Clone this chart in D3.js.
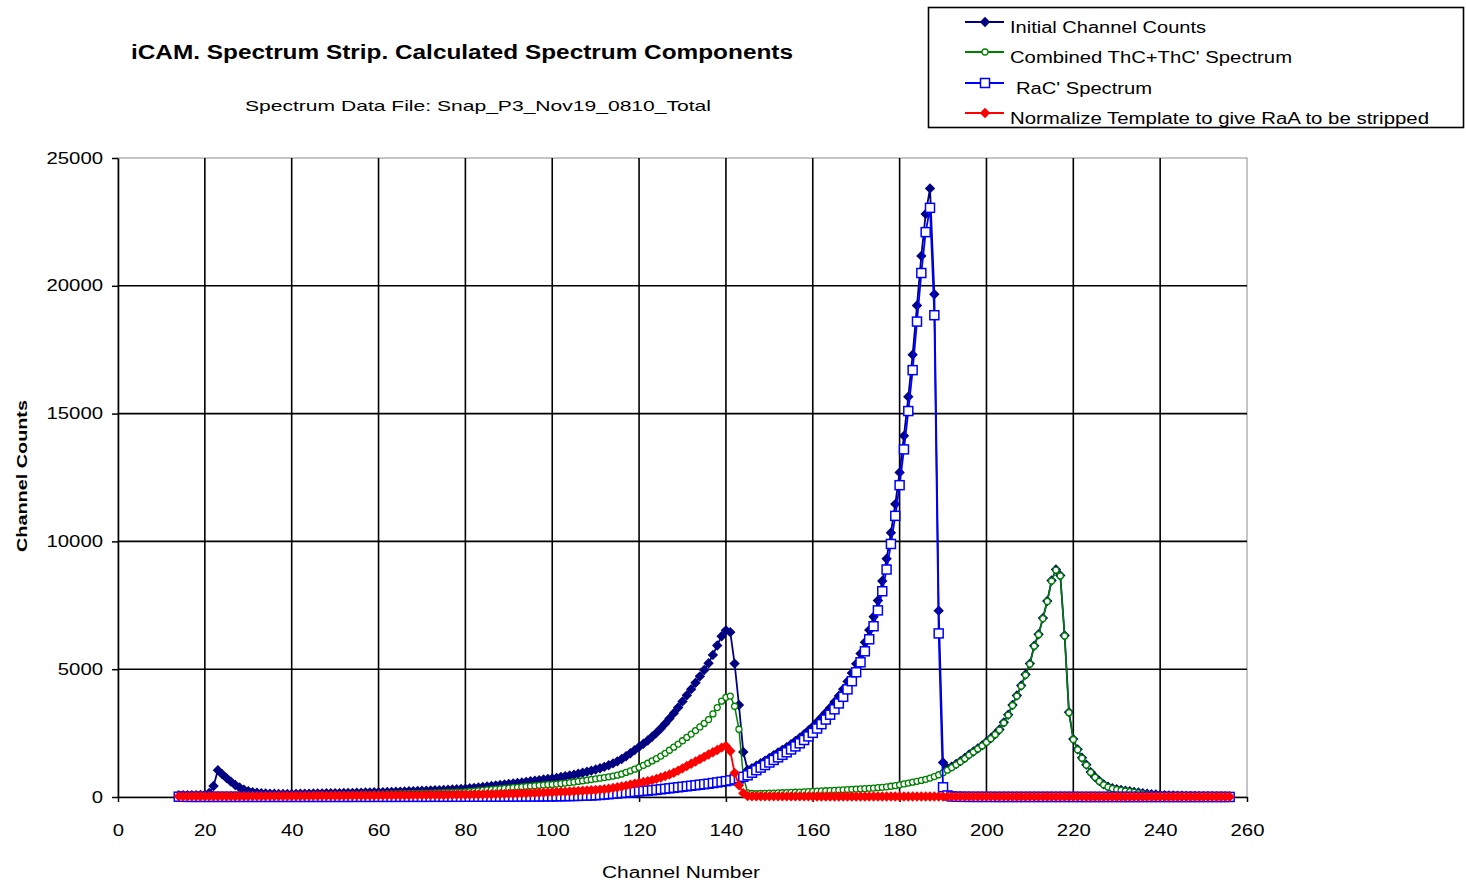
<!DOCTYPE html>
<html>
<head>
<meta charset="utf-8">
<title>iCAM Spectrum Strip</title>
<script src="https://cdn.jsdelivr.net/npm/d3@7"></script>
<style>
  body { margin: 0; background: #fff; }
  svg { display: block; }
</style>
</head>
<body>
<svg id="chart" width="1466" height="882"></svg>
<script>
// ---- Data: counts per channel, starting at channel 14 and ending at channel 256 ----
const firstChannel = 14;

const initialCounts = [
  75, 70, 70, 72, 75, 78,
  90, 160, 430, 1050, 890, 740, 600, 470, 370, 290,
  230, 190, 165, 150, 140, 132, 126, 122, 120, 120,
  122, 124, 126, 129, 132, 135, 138, 141, 144, 147,
  150, 153, 156, 159, 162, 166, 170, 174, 178, 183,
  188, 192, 197, 202, 207, 212, 218, 224, 230, 236,
  242, 248, 255, 262, 270, 278, 287, 296, 305, 314,
  322, 340, 358, 376, 394, 414, 433, 452, 471, 490,
  510, 530, 551, 572, 593, 615, 638, 661, 684, 708,
  725, 750, 780, 810, 840, 872, 910, 950, 990, 1030,
  1075, 1125, 1180, 1245, 1315, 1395, 1485, 1595, 1710, 1835,
  1960, 2085, 2210, 2355, 2510, 2680, 2870, 3070, 3280, 3500,
  3740, 3980, 4220, 4470, 4720, 4970, 5230, 5560, 5930, 6290,
  6520, 6450, 5220, 3600, 1760, 1060, 1130, 1220, 1320, 1425,
  1530, 1635, 1740, 1845, 1950, 2065, 2190, 2320, 2455, 2605,
  2755, 2930, 3110, 3300, 3495, 3715, 3950, 4220, 4520, 4850,
  5210, 5610, 6050, 6530, 7050, 7685, 8450, 9320, 10340, 11460,
  12700, 14130, 15660, 17300, 19230, 21170, 22810, 23810, 19670, 7290,
  1350, 1130, 1190, 1290, 1405, 1525, 1660, 1780, 1900, 2020,
  2160, 2300, 2460, 2640, 2920, 3220, 3600, 3970, 4360, 4790,
  5220, 5920, 6370, 7000, 7670, 8470, 8900, 8670, 6320, 3320,
  2265, 1865, 1535, 1265, 975, 785, 625, 495, 405, 345,
  305, 275, 250, 225, 200, 175, 150, 130, 110, 95,
  81, 70, 62, 56, 51, 47, 43, 40, 37, 34,
  32, 30, 27, 25, 23, 22, 21
];

const thcSpectrum = [
  30, 28, 30, 32, 34, 35,
  36, 38, 40, 45, 42, 40, 40, 42, 44, 46,
  48, 50, 52, 54, 56, 58, 60, 62, 64, 66,
  68, 70, 72, 74, 76, 78, 80, 82, 84, 86,
  88, 90, 92, 94, 96, 98, 100, 103, 106, 109,
  112, 115, 118, 121, 124, 127, 130, 134, 138, 142,
  146, 150, 155, 160, 165, 170, 176, 182, 188, 194,
  200, 215, 230, 245, 260, 275, 290, 305, 320, 335,
  350, 365, 380, 395, 410, 425, 440, 455, 470, 485,
  490, 505, 525, 545, 565, 585, 610, 635, 660, 685,
  710, 735, 760, 790, 820, 855, 900, 960, 1020, 1090,
  1160, 1240, 1320, 1410, 1500, 1600, 1710, 1830, 1950, 2070,
  2200, 2330, 2460, 2600, 2740, 2880, 3030, 3250, 3500, 3750,
  3900, 3950, 3550, 2650, 820, 160, 140, 135, 138, 143,
  150, 155, 160, 166, 172, 178, 185, 192, 200, 210,
  220, 228, 236, 244, 252, 261, 270, 280, 290, 300,
  310, 320, 330, 340, 350, 365, 380, 400, 420, 445,
  475, 510, 545, 580, 615, 650, 690, 740, 800, 870,
  950, 1050, 1150, 1260, 1380, 1500, 1640, 1760, 1880, 2000,
  2140, 2280, 2440, 2620, 2900, 3200, 3580, 3950, 4340, 4770,
  5200, 5900, 6350, 6980, 7650, 8450, 8880, 8650, 6300, 3300,
  2250, 1850, 1520, 1250, 960, 770, 610, 480, 390, 330,
  290, 260, 235, 210, 185, 160, 135, 115, 95, 80,
  68, 58, 50, 44, 39, 35, 31, 28, 25, 22,
  20, 18, 16, 14, 12, 11, 10
];

const racSpectrum = [
  12, 8, 6, 5, 5, 5,
  5, 5, 5, 5, 5, 5, 5, 5, 5, 5,
  5, 5, 5, 5, 5, 5, 5, 5, 5, 5,
  5, 5, 5, 5, 5, 5, 5, 5, 5, 5,
  5, 5, 5, 5, 5, 6, 6, 6, 6, 6,
  6, 6, 6, 6, 6, 7, 7, 7, 7, 7,
  7, 7, 8, 8, 8, 8, 8, 9, 9, 9,
  9, 10, 10, 10, 11, 11, 12, 12, 13, 13,
  14, 15, 16, 17, 18, 19, 20, 21, 22, 24,
  25, 28, 30, 33, 36, 40, 44, 50, 55, 60,
  70, 80, 95, 110, 125, 140, 155, 170, 185, 200,
  220, 235, 250, 265, 280, 300, 320, 340, 360, 380,
  400, 420, 440, 460, 480, 500, 520, 545, 570, 595,
  620, 650, 690, 730, 790, 850, 950, 1050, 1150, 1250,
  1350, 1450, 1550, 1650, 1750, 1860, 1980, 2100, 2230, 2370,
  2510, 2680, 2850, 3030, 3220, 3430, 3660, 3920, 4210, 4530,
  4880, 5270, 5700, 6170, 6680, 7300, 8050, 8900, 9900, 11000,
  12200, 13600, 15100, 16700, 18600, 20500, 22100, 23050, 18850, 6400,
  380, 60, 20, 10, 8, 6, 5, 5, 4, 4,
  4, 4, 3, 3, 3, 3, 3, 3, 3, 3,
  3, 3, 3, 3, 3, 3, 3, 3, 3, 3,
  2, 2, 2, 2, 2, 2, 2, 2, 2, 2,
  2, 2, 2, 2, 2, 2, 2, 2, 2, 2,
  2, 2, 2, 2, 2, 2, 2, 2, 2, 2,
  2, 2, 2, 2, 2, 2, 2
];

const raaTemplate = [
  25, 25, 26, 26, 27, 27,
  28, 28, 29, 29, 30, 30, 31, 31, 32, 32,
  33, 33, 34, 34, 35, 35, 36, 37, 38, 39,
  40, 41, 42, 43, 44, 45, 46, 47, 48, 49,
  50, 51, 52, 53, 54, 55, 56, 57, 58, 60,
  62, 63, 64, 66, 67, 68, 70, 71, 72, 74,
  75, 76, 77, 78, 79, 80, 82, 84, 86, 88,
  90, 92, 95, 98, 100, 105, 108, 112, 115, 120,
  125, 130, 135, 140, 145, 150, 158, 165, 172, 180,
  188, 195, 203, 210, 218, 226, 235, 245, 255, 265,
  275, 290, 305, 325, 350, 380, 410, 445, 485, 525,
  560, 590, 620, 660, 710, 760, 820, 880, 950, 1030,
  1120, 1210, 1300, 1390, 1480, 1570, 1660, 1750, 1840, 1930,
  2000, 1800, 940, 460, 150, 40, 30, 28, 27, 26,
  26, 25, 25, 25, 24, 24, 24, 23, 23, 23,
  22, 22, 22, 22, 21, 21, 21, 21, 20, 20,
  20, 20, 20, 19, 19, 19, 19, 19, 18, 18,
  18, 18, 18, 18, 17, 17, 17, 17, 17, 17,
  16, 16, 16, 16, 16, 16, 16, 15, 15, 15,
  15, 15, 15, 15, 15, 14, 14, 14, 14, 14,
  14, 14, 14, 14, 13, 13, 13, 13, 13, 13,
  13, 13, 13, 12, 12, 12, 12, 12, 12, 12,
  12, 12, 11, 11, 11, 11, 11, 11, 11, 11,
  11, 10, 10, 10, 10, 10, 10, 10, 10, 10,
  10, 10, 9, 9, 9, 9, 9
];

const seriesNames = [
  "Initial Channel Counts",
  "Combined ThC+ThC' Spectrum",
  "RaC' Spectrum",
  "Normalize Template to give RaA to be stripped"
];
const xTicks = [0, 20, 40, 60, 80, 100, 120, 140, 160, 180, 200, 220, 240, 260];
const yTicks = [0, 5000, 10000, 15000, 20000, 25000];

const chartTitle = "iCAM. Spectrum Strip. Calculated Spectrum Components";
const chartSubtitle = "Spectrum Data File:  Snap_P3_Nov19_0810_Total";
const xTitle = "Channel Number";
const yTitle = "Channel Counts";

// ---- Layout ----
const svg = d3.select("#chart");
const plot = { left: 118, right: 1247, top: 158, bottom: 797 };
const font = "'Liberation Sans', Arial, sans-serif";

const x = d3.scaleLinear().domain([0, 260]).range([plot.left, plot.right]);
const y = d3.scaleLinear().domain([0, 25000]).range([plot.bottom, plot.top]);

// Plot frame (light grey top and right edges)
svg.append("rect")
  .attr("x", plot.left).attr("y", plot.top)
  .attr("width", plot.right - plot.left).attr("height", plot.bottom - plot.top)
  .attr("fill", "#fff").attr("stroke", "#8c8c8c").attr("stroke-width", 1);

// Grid lines
const grid = svg.append("g");
grid.selectAll("line.v").data(xTicks.filter(t => t > 0 && t < 260)).join("line")
  .attr("x1", d => x(d)).attr("x2", d => x(d))
  .attr("y1", plot.top).attr("y2", plot.bottom)
  .attr("stroke", "#000").attr("stroke-width", 1.6);
grid.selectAll("line.h").data(yTicks.filter(t => t > 0 && t < 25000)).join("line")
  .attr("x1", plot.left).attr("x2", plot.right)
  .attr("y1", d => y(d)).attr("y2", d => y(d))
  .attr("stroke", "#000").attr("stroke-width", 1.6);

// Axes
function styleTicks(sel, width) {
  sel.selectAll("text")
    .attr("font-family", font).attr("font-size", 16).attr("fill", "#000")
    .attr("textLength", function () { return this.textContent.length * width; })
    .attr("lengthAdjust", "spacingAndGlyphs");
  sel.selectAll("line").attr("stroke", "#000").attr("stroke-width", 1.5);
  sel.select(".domain").attr("stroke", "#000").attr("stroke-width", 1.6);
}

const yAxis = svg.append("g")
  .attr("transform", `translate(${plot.left},0)`)
  .call(d3.axisLeft(y).tickValues(yTicks).tickSize(6).tickPadding(9).tickFormat(d3.format("d")).tickSizeOuter(0));
styleTicks(yAxis, 11.3);

const xAxis = svg.append("g")
  .attr("transform", `translate(0,${plot.bottom})`)
  .call(d3.axisBottom(x).tickValues(xTicks).tickSize(5).tickPadding(23).tickSizeOuter(0));
styleTicks(xAxis, 11.3);

// ---- Series ----
const series = [
  { name: seriesNames[0], values: initialCounts, color: "#000080", marker: "diamond", width: 1.8 },
  { name: seriesNames[1], values: thcSpectrum, color: "#008000", marker: "circle", width: 1.5 },
  { name: seriesNames[2], values: racSpectrum, color: "#0000ff", marker: "square", width: 1.8 },
  { name: seriesNames[3], values: raaTemplate, color: "#ff0000", marker: "diamond", width: 1.8 }
];

function drawMarker(g, type, color) {
  if (type === "diamond") {
    g.append("path").attr("d", "M0,-5.2L5.2,0L0,5.2L-5.2,0Z").attr("fill", color);
  } else if (type === "square") {
    g.append("rect").attr("x", -4.5).attr("y", -4.5).attr("width", 9).attr("height", 9)
      .attr("fill", "#fff").attr("stroke", color).attr("stroke-width", 1.5);
  } else {
    g.append("circle").attr("r", 3).attr("fill", "#fff").attr("stroke", color).attr("stroke-width", 1.3);
  }
}

const line = d3.line()
  .x((d, i) => x(firstChannel + i))
  .y(d => y(d));

series.forEach(s => {
  const g = svg.append("g");
  g.append("path").datum(s.values)
    .attr("d", line).attr("fill", "none")
    .attr("stroke", s.color).attr("stroke-width", s.width).attr("stroke-linejoin", "round");
  g.selectAll("g.pt").data(s.values).join("g")
    .attr("transform", (d, i) => `translate(${x(firstChannel + i)},${y(d)})`)
    .each(function () { drawMarker(d3.select(this), s.marker, s.color); });
});

// ---- Titles ----
svg.append("text")
  .attr("x", 131).attr("y", 59)
  .attr("font-family", font).attr("font-weight", "bold").attr("font-size", 20)
  .attr("textLength", 662).attr("lengthAdjust", "spacingAndGlyphs")
  .text(chartTitle);

svg.append("text")
  .attr("x", 245).attr("y", 111)
  .attr("font-family", font).attr("font-size", 15)
  .attr("textLength", 466).attr("lengthAdjust", "spacingAndGlyphs")
  .text(chartSubtitle);

svg.append("text")
  .attr("x", 602).attr("y", 878)
  .attr("font-family", font).attr("font-size", 16)
  .attr("textLength", 158).attr("lengthAdjust", "spacingAndGlyphs")
  .text(xTitle);

svg.append("text")
  .attr("transform", "translate(27,552) rotate(-90)")
  .attr("font-family", font).attr("font-weight", "bold").attr("font-size", 14)
  .attr("textLength", 152).attr("lengthAdjust", "spacingAndGlyphs")
  .text(yTitle);

// ---- Legend ----
const legend = svg.append("g");
legend.append("rect")
  .attr("x", 928.5).attr("y", 7.5).attr("width", 535).attr("height", 120)
  .attr("fill", "#fff").attr("stroke", "#000").attr("stroke-width", 1.6);

const legendRows = [
  { y: 22, textX: 1010, textLen: 196 },
  { y: 52, textX: 1010, textLen: 282 },
  { y: 83, textX: 1016, textLen: 136 },
  { y: 113, textX: 1010, textLen: 419 }
];

series.forEach((s, i) => {
  const r = legendRows[i];
  const row = legend.append("g");
  row.append("line")
    .attr("x1", 965).attr("x2", 1004).attr("y1", r.y).attr("y2", r.y)
    .attr("stroke", s.color).attr("stroke-width", 1.8);
  const m = row.append("g").attr("transform", `translate(985,${r.y})`);
  drawMarker(m, s.marker, s.color);
  row.append("text")
    .attr("x", r.textX).attr("y", r.y + 11)
    .attr("font-family", font).attr("font-size", 16)
    .attr("textLength", r.textLen).attr("lengthAdjust", "spacingAndGlyphs")
    .text(s.name);
});
</script>
</body>
</html>
